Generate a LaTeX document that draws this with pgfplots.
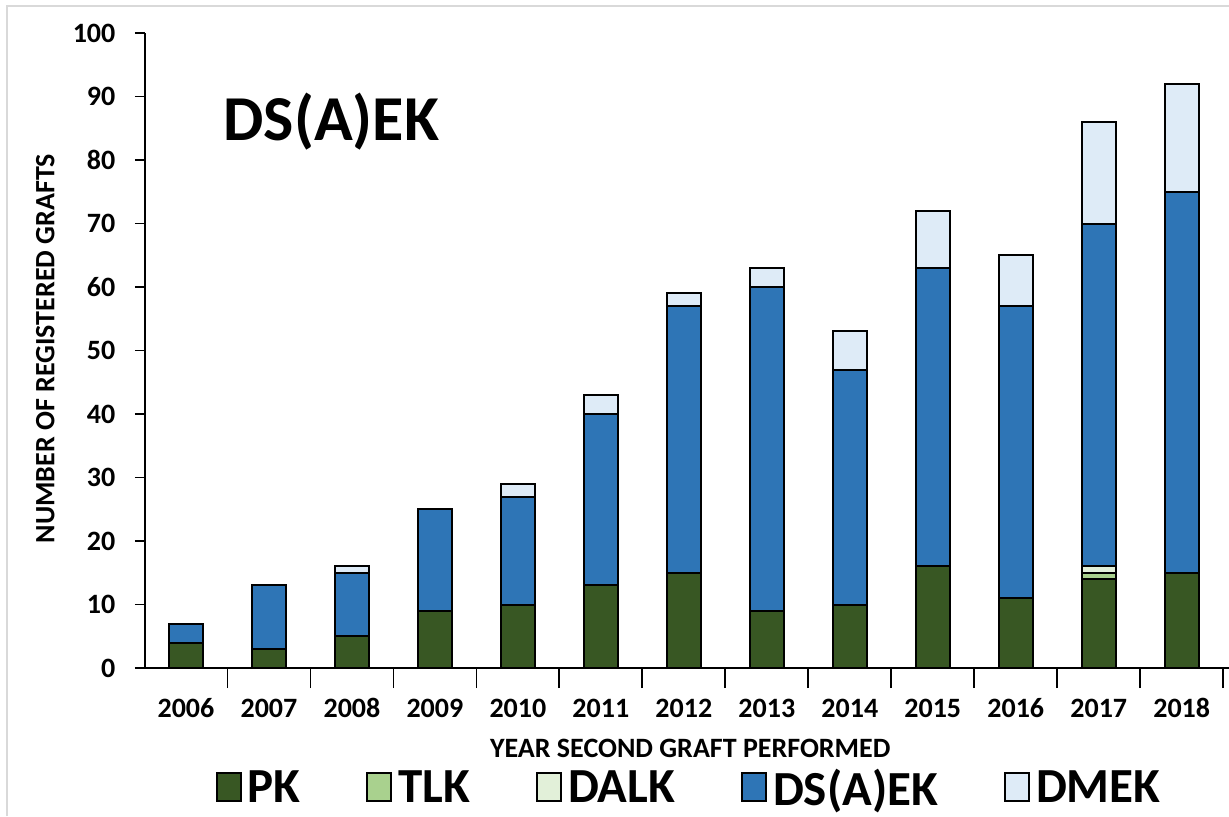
\documentclass[border=0pt]{standalone}
\usepackage{pgfplots}
\pgfplotsset{compat=1.18}
\usepackage{fontspec}
\setmainfont{Carlito}
\definecolor{pk}{HTML}{385723}
\definecolor{tlk}{HTML}{A9D18E}
\definecolor{dalk}{HTML}{E2F0D9}
\definecolor{dsaek}{HTML}{2E75B6}
\definecolor{dmek}{HTML}{DEEBF7}
\begin{document}
\begin{tikzpicture}[x=1pt,y=1pt]
\useasboundingbox (-72.5,-74) rectangle (542,334);
\draw[black!15,line width=1.2pt] (-69,-74) -- (-69,331) -- (542,331);
\begin{axis}[
  at={(0,0)}, anchor=south west,
  scale only axis, width=542pt, height=317.5pt,
  ybar stacked, bar width=17pt,
  xmin=-0.494, xmax=12.57, ymin=0, ymax=100,
  axis x line=bottom, axis y line=left,
  axis line style={-, line width=0.9pt, black},
  tick align=outside,
  major tick length=10pt,
  tick style={line width=0.9pt, black},
  /pgf/number format/assume math mode=true,
  xtick={0.5,1.5,...,12.5}, xticklabels={},
  extra x ticks={0,1,...,12},
  extra x tick labels={2006,2007,2008,2009,2010,2011,2012,2013,2014,2015,2016,2017,2018},
  extra x tick style={major tick length=0pt},
  ytick=\empty,
  extra y ticks={0,10,...,100},
  extra y tick style={major tick length=5pt},
  every tick label/.append style={font=\bfseries\fontsize{14}{14}\selectfont},
  x tick label style={yshift=-11pt, text height=10pt, text depth=0pt},
  y tick label style={xshift=-6pt},
  xlabel={YEAR SECOND GRAFT PERFORMED},
  xlabel style={font=\bfseries\fontsize{14}{14}\selectfont, at={(axis description cs:0.503,0)}, anchor=center, yshift=-40pt},
  ylabel={NUMBER OF REGISTERED GRAFTS},
  ylabel style={font=\bfseries\fontsize{14}{14}\selectfont, at={(axis description cs:-0.092,0.503)}, anchor=center},
  legend style={draw=none, at={(273pt,-59.5pt)}, anchor=center, legend columns=5,
     font=\bfseries\fontsize{24.5}{24.5}\selectfont,
     /tikz/every even column/.append style={column sep=30pt},
     /tikz/every odd column/.append style={column sep=0pt},
     nodes={inner xsep=3pt, inner ysep=0pt, text depth=0pt}},
  legend image code/.code={\draw[#1, line width=1pt] (0pt,-7pt) rectangle (12pt,7pt);},
  draw=black, line width=1pt,
]
\addplot[fill=pk, draw=black] coordinates {(0,4) (1,3) (2,5) (3,9) (4,10) (5,13) (6,15) (7,9) (8,10) (9,16) (10,11) (11,14) (12,15)};
\addplot[fill=tlk, draw=black] coordinates {(0,0) (1,0) (2,0) (3,0) (4,0) (5,0) (6,0) (7,0) (8,0) (9,0) (10,0) (11,1) (12,0)};
\addplot[fill=dalk, draw=black] coordinates {(0,0) (1,0) (2,0) (3,0) (4,0) (5,0) (6,0) (7,0) (8,0) (9,0) (10,0) (11,1) (12,0)};
\addplot[fill=dsaek, draw=black] coordinates {(0,3) (1,10) (2,10) (3,16) (4,17) (5,27) (6,42) (7,51) (8,37) (9,47) (10,46) (11,54) (12,60)};
\addplot[fill=dmek, draw=black] coordinates {(0,0) (1,0) (2,1) (3,0) (4,2) (5,3) (6,2) (7,3) (8,6) (9,9) (10,8) (11,16) (12,17)};
\legend{PK,TLK,DALK,DS(A)EK,DMEK}
\node[font=\bfseries\fontsize{32}{32}\selectfont, anchor=center] at (axis cs:1.75,86) {DS(A)EK};
\end{axis}
\end{tikzpicture}
\end{document}
